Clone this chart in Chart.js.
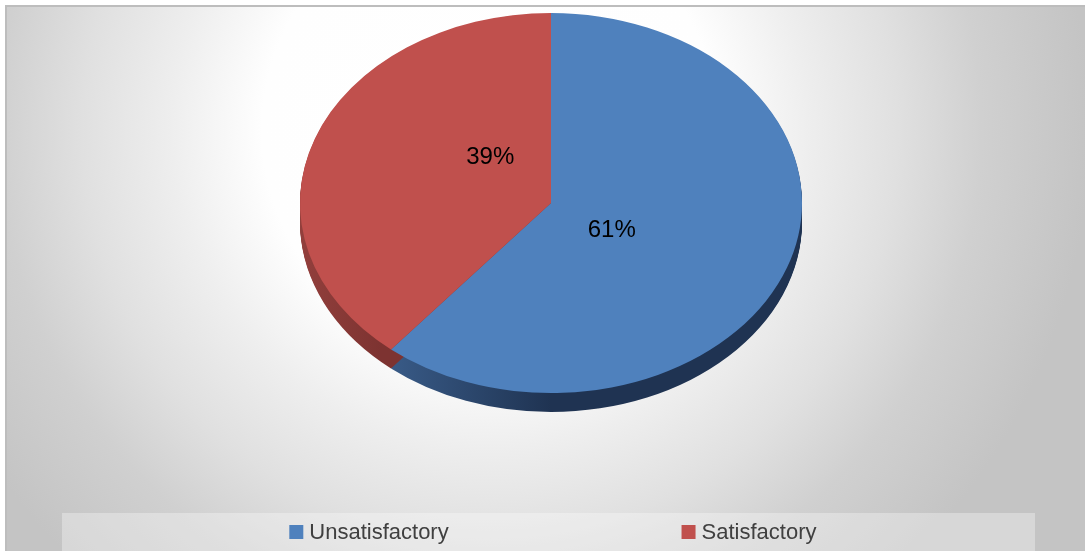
<!DOCTYPE html>
<html>
<head>
<meta charset="utf-8">
<script src="https://cdn.jsdelivr.net/npm/chart.js@4/dist/chart.umd.min.js"></script>
<style>
	html, body { margin: 0; padding: 0; background: #fff; }
	#wrap { width: 1088px; height: 551px; position: relative; }
</style>
</head>
<body>
<div id="wrap"><canvas id="myChart"></canvas></div>
<script>
const categories = ['Unsatisfactory', 'Satisfactory'];
const shares = [61, 39];
const topColors = ['#4f81bd', '#c0504d'];
const sideColors = [['#3a5d8a', '#1f3352'], ['#923f3c', '#7d3331']];

const FONT = '"Liberation Sans", Arial, sans-serif';
const TILT = 190 / 251;   // vertical squash of the pie
const DEPTH = 19;         // thickness of the pie edge
const LABEL_TURN = 0.33;  // labels sit a little clockwise of the slice middle
const LABEL_LIFT = 9;

// flattens the pie about its top edge
function squash(ctx, arc) {
	const top = arc.y - arc.outerRadius;
	ctx.translate(0, top);
	ctx.scale(1, TILT);
	ctx.translate(0, -top);
}

const backdrop = {
	id: 'backdrop',
	beforeDraw(chart) {
		const ctx = chart.ctx;
		const w = chart.width, h = chart.height;
		ctx.save();
		ctx.fillStyle = '#fff';
		ctx.fillRect(0, 0, w, h);

		// radial fill, light round the pie, grey at the edges
		const g = ctx.createRadialGradient(490, 130, 0, 490, 130, 600);
		g.addColorStop(0, '#ffffff');
		g.addColorStop(0.38, '#fefefe');
		g.addColorStop(0.53, '#eeeeee');
		g.addColorStop(0.68, '#e0e0e0');
		g.addColorStop(0.82, '#d0d0d0');
		g.addColorStop(0.97, '#c6c6c6');
		g.addColorStop(1, '#c4c4c4');
		ctx.fillStyle = g;
		ctx.fillRect(7, 7, w - 10, h - 7);

		ctx.strokeStyle = '#bdbdbd';
		ctx.lineWidth = 2;
		ctx.beginPath();
		ctx.moveTo(6, h);
		ctx.lineTo(6, 6);
		ctx.lineTo(w - 3, 6);
		ctx.stroke();
		ctx.restore();
	}
};

const pie3d = {
	id: 'pie3d',
	beforeDatasetsDraw(chart) {
		const ctx = chart.ctx;
		const arcs = chart.getDatasetMeta(0).data;
		if (!arcs.length) return;

		// the edge: each slice repeated downwards, darker
		arcs.forEach((arc, i) => {
			const p = arc.getProps(['x', 'y', 'startAngle', 'endAngle', 'outerRadius'], true);
			const cy = p.y - p.outerRadius + p.outerRadius * TILT;
			const ry = p.outerRadius * TILT;
			const grad = ctx.createLinearGradient(i === 0 ? p.x - 170 : p.x - 250, 0, i === 0 ? p.x : p.x - 170, 0);
			grad.addColorStop(0, sideColors[i][0]);
			grad.addColorStop(1, sideColors[i][1]);
			ctx.save();
			ctx.fillStyle = grad;
			for (let k = DEPTH; k >= 1; k--) {
				ctx.beginPath();
				ctx.moveTo(p.x, cy + k);
				ctx.ellipse(p.x, cy + k, p.outerRadius, ry, 0, p.startAngle, p.endAngle);
				ctx.closePath();
				ctx.fill();
			}
			ctx.restore();
		});

		ctx.save();
		squash(ctx, arcs[0]);
	},
	afterDatasetsDraw(chart) {
		const ctx = chart.ctx;
		const arcs = chart.getDatasetMeta(0).data;
		if (!arcs.length) return;
		ctx.restore();

		const total = shares.reduce((a, b) => a + b, 0);
		ctx.save();
		ctx.font = '24px ' + FONT;
		ctx.fillStyle = '#000';
		ctx.textAlign = 'center';
		ctx.textBaseline = 'middle';
		arcs.forEach((arc, i) => {
			const p = arc.getProps(['x', 'y', 'startAngle', 'endAngle', 'outerRadius'], true);
			const mid = (p.startAngle + p.endAngle) / 2 + LABEL_TURN;
			const r = p.outerRadius * 0.31;
			const top = p.y - p.outerRadius;
			const nx = p.x + Math.cos(mid) * r;
			const ny = p.y + Math.sin(mid) * r;
			const pct = Math.round(shares[i] / total * 100) + '%';
			ctx.fillText(pct, nx, top + (ny - top) * TILT - LABEL_LIFT);
		});
		ctx.restore();
	}
};

const boxLegend = {
	id: 'boxLegend',
	afterDraw(chart) {
		const ctx = chart.ctx;
		const left = 62, right = 1035, top = 513;
		ctx.save();
		ctx.fillStyle = 'rgba(255,255,255,0.32)';
		ctx.fillRect(left, top, right - left, chart.height - top);

		ctx.font = '22px ' + FONT;
		ctx.textBaseline = 'middle';
		const mid = 559, gap = 380, y = 532;
		categories.forEach((label, i) => {
			const tw = ctx.measureText(label).width;
			const itemW = 14 + 6 + tw;
			const x = mid + (i - (categories.length - 1) / 2) * gap - itemW / 2;
			ctx.fillStyle = topColors[i];
			ctx.fillRect(x, y - 7, 14, 14);
			ctx.fillStyle = '#404040';
			ctx.fillText(label, x + 20, y + 1);
		});
		ctx.restore();
	}
};

new Chart(document.getElementById('myChart'), {
	type: 'pie',
	data: {
		labels: categories,
		datasets: [{
			data: shares,
			backgroundColor: topColors,
			borderWidth: 0,
			hoverOffset: 0,
			clip: false
		}]
	},
	options: {
		responsive: true,
		maintainAspectRatio: false,
		animation: false,
		events: [],
		layout: { padding: { left: 14, right: 0, top: 13, bottom: 36 } },
		plugins: {
			legend: { display: false },
			tooltip: { enabled: false }
		}
	},
	plugins: [backdrop, pie3d, boxLegend]
});
</script>
</body>
</html>
